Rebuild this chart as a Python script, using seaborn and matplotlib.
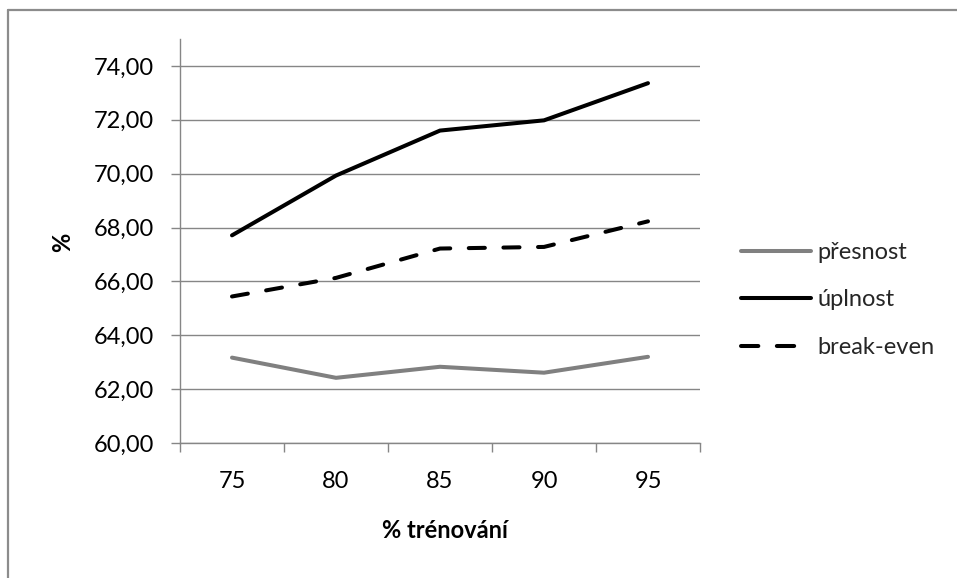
import matplotlib
matplotlib.use("Agg")
import matplotlib.pyplot as plt
from matplotlib.lines import Line2D
import seaborn as sns
import pandas as pd
import numpy as np

# ---- data ----
categories = ["75", "80", "85", "90", "95"]
presnost = [63.17, 62.42, 62.83, 62.61, 63.20]
uplnost = [67.71, 69.93, 71.60, 71.98, 73.36]
break_even = [65.44, 66.13, 67.22, 67.28, 68.23]
series_names = ["přesnost", "úplnost", "break-even"]
y_ticks = [60, 62, 64, 66, 68, 70, 72, 74]
y_tick_labels = ["60,00", "62,00", "64,00", "66,00", "68,00", "70,00", "72,00", "74,00"]
x_title = "% trénování"
y_title = "%"

rows = []
for name, vals in zip(series_names, [presnost, uplnost, break_even]):
    for i, v in enumerate(vals):
        rows.append({"pos": i, "value": v, "series": name})
df = pd.DataFrame(rows)

sns.set_theme(style="white")
plt.rcParams["font.family"] = ["Lato", "DejaVu Sans"]

W, H = 957, 578
fig = plt.figure(figsize=(W / 100, H / 100), dpi=100)
ax = fig.add_axes([180 / W, (H - 443) / H, 520 / W, 404 / H])

gray = "#868686"
lw = 2.9
palette = {"přesnost": "#808080", "úplnost": "#000000", "break-even": "#000000"}
dashes = {"přesnost": "", "úplnost": "", "break-even": (4.0, 4.6)}

sns.lineplot(data=df, x="pos", y="value", hue="series", style="series",
             hue_order=series_names, style_order=series_names,
             palette=palette, dashes=dashes, linewidth=lw, ax=ax,
             legend=False, sort=False)
for ln in ax.get_lines():
    ln.set_solid_capstyle("round")
    ln.set_dash_capstyle("round")
    ln.set_solid_joinstyle("miter")

ax.set_xlim(-0.5, len(categories) - 0.5)
ax.set_ylim(60, 75)

# y axis
ax.set_yticks(y_ticks)
ax.set_yticklabels(y_tick_labels)
ax.yaxis.grid(True, color=gray, linewidth=1.0)
ax.xaxis.grid(False)
ax.set_axisbelow(True)

# x axis: ticks at category boundaries, labels at centres
ax.set_xticks(np.arange(-0.5, len(categories), 1.0))
ax.set_xticklabels([])
ax.set_xticks(np.arange(len(categories)), minor=True)
ax.set_xticklabels(categories, minor=True)

fs = 17
ax.tick_params(axis="y", which="major", direction="out", length=6.5, width=1.0,
               color=gray, pad=12, labelsize=fs, labelcolor="black", left=True)
ax.tick_params(axis="x", which="major", direction="out", length=6.5, width=1.0,
               color=gray, bottom=True)
ax.tick_params(axis="x", which="minor", length=0, pad=20, labelsize=fs,
               labelcolor="black", bottom=True)

for s in ["top", "right"]:
    ax.spines[s].set_visible(False)
for s in ["left", "bottom"]:
    ax.spines[s].set_color(gray)
    ax.spines[s].set_linewidth(1.0)

ax.set_xlabel(x_title, fontsize=fs, fontweight="bold", color="black")
ax.set_ylabel(y_title, fontsize=fs, fontweight="bold", color="black")
ax.xaxis.set_label_coords((445 - 180) / 520, -(530 - 443) / 404)
ax.xaxis.label.set_va("center")
ax.yaxis.set_label_coords((63 - 180) / 520, (443 - 242) / 404)
ax.yaxis.label.set_va("center")

# legend
handles = [
    Line2D([], [], color=palette["přesnost"], linewidth=lw, solid_capstyle="round"),
    Line2D([], [], color=palette["úplnost"], linewidth=lw, solid_capstyle="round"),
    Line2D([], [], color=palette["break-even"], linewidth=lw, dashes=(4.3, 4.6),
           dash_capstyle="round"),
]
leg = fig.legend(handles, series_names, loc="center left",
                 bbox_to_anchor=(741 / W, 1 - 300 / H), frameon=False,
                 fontsize=fs, handlelength=2.95, handletextpad=0.28,
                 labelspacing=1.12, borderpad=0, borderaxespad=0)

# outer chart border (left and top)
fig.add_artist(Line2D([8 / W, 8 / W], [0, 1 - 10 / H], color="#8c8c8c",
                      linewidth=1.6, transform=fig.transFigure))
fig.add_artist(Line2D([8 / W, 1], [1 - 10 / H, 1 - 10 / H], color="#8c8c8c",
                      linewidth=1.6, transform=fig.transFigure))

fig.savefig("out.png", dpi=100, facecolor="white")
